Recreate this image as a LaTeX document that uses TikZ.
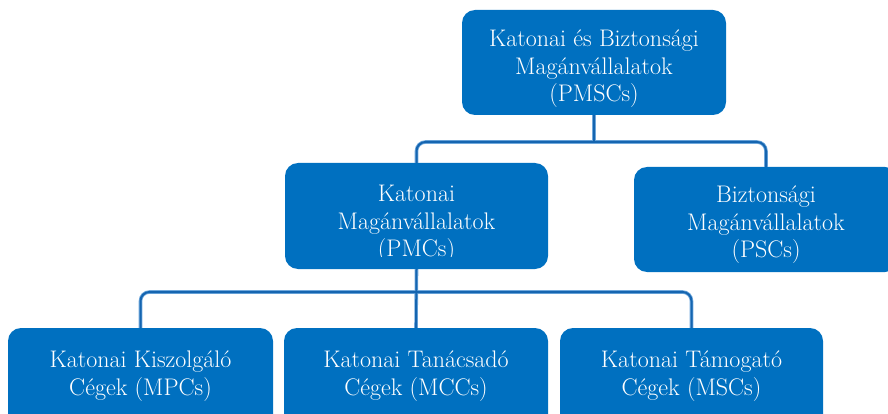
\documentclass[tikz,border=0pt]{standalone}
\usetikzlibrary{calc}
\definecolor{boxblue}{HTML}{0070C0}
\definecolor{linedark}{HTML}{1565B0}
\definecolor{lineedge}{HTML}{6FA8DC}
\tikzset{
  box/.style={fill=boxblue, rounded corners=13pt, inner sep=0pt},
  lbl/.style={text=white, align=center, font=\rmfamily\fontsize{24pt}{27.5pt}\selectfont, inner sep=0pt},
  connedge/.style={draw=lineedge, line width=3.6pt, rounded corners=9pt},
  conn/.style={draw=linedark, line width=2pt, rounded corners=9pt}
}
\begin{document}
\begin{tikzpicture}[x=1pt,y=-1pt]
\useasboundingbox (0,0) rectangle (888,414);
\clip (0,0) rectangle (888,414);
% boxes
\node[box, minimum width=264pt, minimum height=105pt] (top) at (594,62.5) {};
\node[box, minimum width=263pt, minimum height=106pt] (pmc) at (416.5,216) {};
\node[box, minimum width=264pt, minimum height=105pt] (psc) at (766,219.5) {};
\node[box, minimum width=265pt, minimum height=100pt] (mpc) at (140.5,378) {};
\node[box, minimum width=264pt, minimum height=100pt] (mcc) at (416,378) {};
\node[box, minimum width=263pt, minimum height=100pt] (msc) at (691.5,378) {};
% bus points
\coordinate (bus1) at (594,142);
\coordinate (bus2) at (416.5,292);
% connectors
\foreach \s in {connedge,conn}{
  \draw[\s] (top.south) -- (bus1);
  \draw[\s] (pmc.north) |- (bus1) -| (psc.north);
  \draw[\s] (pmc.south) -- (mcc.north);
  \draw[\s] (mpc.north) |- (bus2) -| (msc.north);
}
% labels
\node[lbl] (topT) at (594,69) {Katonai és Biztonsági\\Magánvállalatok\\(PMSCs)};
\begin{scope}
  \clip (pmc.north west) rectangle ($(pmc.south east)+(0,-13)$);
  \node[lbl] (pmcT) at (416.5,224) {Katonai\\Magánvállalatok\\(PMCs)};
\end{scope}
\node[lbl] (pscT) at (766,225) {Biztonsági\\Magánvállalatok\\(PSCs)};
\node[lbl] (mpcT) at (140.5,376) {Katonai Kiszolgáló\\Cégek (MPCs)};
\node[lbl] (mccT) at (416,376) {Katonai Tanácsadó\\Cégek (MCCs)};
\node[lbl] (mscT) at (691.5,376) {Katonai Támogató\\Cégek (MSCs)};
\end{tikzpicture}
\end{document}
